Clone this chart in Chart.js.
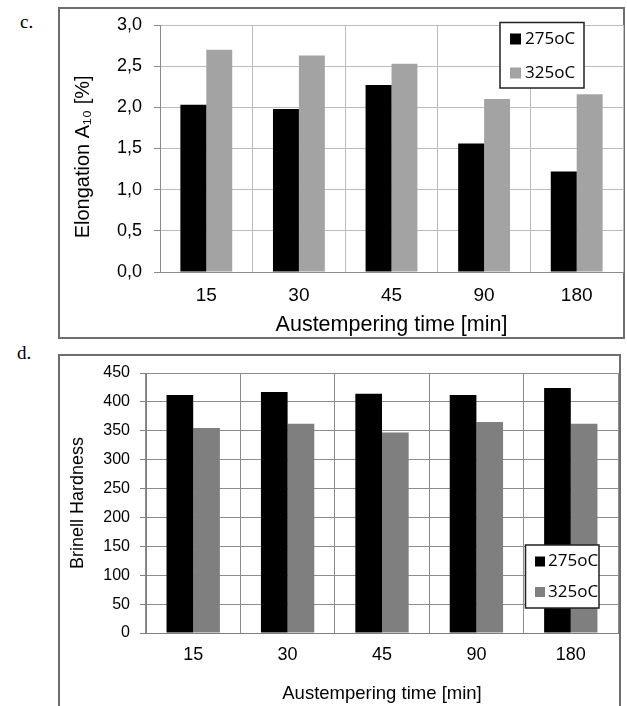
<!DOCTYPE html>
<html>
<head>
<meta charset="utf-8">
<script src="https://cdn.jsdelivr.net/npm/chart.js@4.4.0/dist/chart.umd.min.js"></script>
<style>
  body { margin: 0; background: #fff; }
  #wrap { position: relative; width: 627px; height: 706px; overflow: hidden; }
  canvas { position: absolute; left: 0; }
  #chartC { top: 0; }
  #chartD { top: 340px; }
  .tag { position: absolute; font: 19px "Liberation Serif", "Times New Roman", serif; color: #000; }
</style>
</head>
<body>
<div id="wrap">
  <div class="tag" style="left:20px; top:11px;">c.</div>
  <div class="tag" style="left:17px; top:342px;">d.</div>
  <canvas id="chartC" width="627" height="340"></canvas>
  <canvas id="chartD" width="627" height="366"></canvas>
</div>
<script>
// categories and series
const times = ["15", "30", "45", "90", "180"];
const seriesNames = ["275oC", "325oC"];

// c. elongation A10 [%]
const elong275 = [2.03, 1.98, 2.27, 1.56, 1.22];
const elong325 = [2.70, 2.63, 2.53, 2.10, 2.16];
const elongTicks = ["0,0", "0,5", "1,0", "1,5", "2,0", "2,5", "3,0"];

// d. Brinell hardness
const hard275 = [412, 417, 414, 412, 424];
const hard325 = [355, 362, 347, 365, 362];

Chart.defaults.font.family = "'Liberation Sans', Arial, sans-serif";
Chart.defaults.color = "#000";
Chart.defaults.animation = false;

// outer frame around each chart (like the pasted excel chart border)
const framePlugin = {
  id: "frame",
  beforeDraw(chart, args, opts) {
    const ctx = chart.ctx;
    ctx.save();
    ctx.strokeStyle = "#6e6e6e";
    ctx.lineWidth = 2;
    ctx.strokeRect(opts.x, opts.y, opts.w, opts.h);
    ctx.restore();
  },
};

// legend box drawn inside the plot, on top of the bars
const boxLegend = {
  id: "boxLegend",
  afterDraw(chart, args, opts) {
    const ctx = chart.ctx;
    ctx.save();
    ctx.fillStyle = "#fff";
    ctx.fillRect(opts.x, opts.y, opts.w, opts.h);
    ctx.strokeStyle = "#222";
    ctx.lineWidth = 1.5;
    ctx.strokeRect(opts.x, opts.y, opts.w, opts.h);
    ctx.font = "17px 'Open Sans', sans-serif";
    ctx.textBaseline = "middle";
    chart.data.datasets.forEach((ds, i) => {
      const cy = opts.firstY + i * opts.rowGap;
      ctx.fillStyle = ds.backgroundColor;
      ctx.fillRect(opts.swatchX, cy - opts.swatch / 2, opts.swatch, opts.swatch);
      ctx.fillStyle = "#000";
      ctx.fillText(ds.label, opts.textX, cy);
    });
    ctx.restore();
  },
};

// c. Elongation chart
new Chart(document.getElementById("chartC"), {
  type: "bar",
  data: {
    labels: times,
    datasets: [
      { label: seriesNames[0], data: elong275, backgroundColor: "#000000" },
      { label: seriesNames[1], data: elong325, backgroundColor: "#a3a3a3" },
    ],
  },
  options: {
    responsive: false,
    categoryPercentage: 0.56,
    barPercentage: 1.0,
    layout: { padding: { left: 60, right: 4, top: 25, bottom: 0 } },
    plugins: {
      legend: { display: false },
      tooltip: { enabled: false },
      frame: { x: 59, y: 8, w: 565, h: 330 },
      boxLegend: { x: 500, y: 22.5, w: 84, h: 65.5, swatchX: 510, swatch: 11, textX: 525, firstY: 39, rowGap: 34 },
    },
    scales: {
      x: {
        grid: { offset: true, drawTicks: false, color: "#bcbcbc" },
        border: { color: "#8a8a8a" },
        ticks: { font: { size: 19 }, padding: 12 },
        title: { display: true, text: "Austempering time [min]", font: { size: 21.5 }, padding: { top: 0, bottom: 2 } },
        afterFit(scale) { scale.height = 68; },
      },
      y: {
        min: 0,
        max: 3,
        ticks: { stepSize: 0.5, font: { size: 18 }, padding: 12, callback: (v, i) => elongTicks[i] },
        grid: { color: "#bcbcbc", tickLength: 6, tickColor: "#8a8a8a" },
        border: { color: "#8a8a8a" },
        title: { display: true, text: "Elongation A\u2081\u2080 [%]   ", font: { size: 20 }, padding: { top: 11, bottom: 0 } },
        afterFit(scale) { scale.width = 100; },
      },
    },
  },
  plugins: [framePlugin, boxLegend],
});

// d. Brinell hardness chart
new Chart(document.getElementById("chartD"), {
  type: "bar",
  data: {
    labels: times,
    datasets: [
      { label: seriesNames[0], data: hard275, backgroundColor: "#000000" },
      { label: seriesNames[1], data: hard325, backgroundColor: "#7f7f7f" },
    ],
  },
  options: {
    responsive: false,
    categoryPercentage: 0.565,
    barPercentage: 1.0,
    layout: { padding: { left: 60, right: 9, top: 33, bottom: 0 } },
    plugins: {
      legend: { display: false },
      tooltip: { enabled: false },
      frame: { x: 59, y: 15, w: 561, h: 400 },
      boxLegend: { x: 525.5, y: 205, w: 73.5, h: 63, swatchX: 535, swatch: 10, textX: 548, firstY: 221.5, rowGap: 30.5 },
    },
    scales: {
      x: {
        grid: { offset: true, drawTicks: false, color: "#8c8c8c" },
        border: { color: "#808080" },
        ticks: { font: { size: 18 }, padding: 11 },
        title: { display: true, text: "Austempering time [min]", font: { size: 18.5 }, padding: { top: 0, bottom: 1 } },
        afterFit(scale) { scale.height = 73; },
      },
      y: {
        min: 0,
        max: 450,
        ticks: { stepSize: 50, font: { size: 16 }, padding: 10 },
        grid: { color: "#8c8c8c", tickLength: 6, tickColor: "#808080" },
        border: { color: "#808080" },
        title: { display: true, text: "Brinell Hardness", font: { size: 18 }, padding: { top: 7, bottom: 0 } },
        afterFit(scale) { scale.width = 86; },
      },
    },
  },
  plugins: [framePlugin, boxLegend],
});
</script>
</body>
</html>
